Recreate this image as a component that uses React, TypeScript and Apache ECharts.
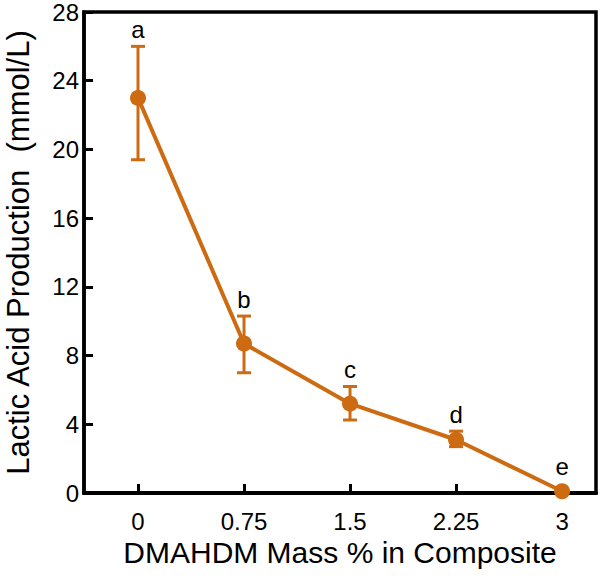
import React, { useEffect, useRef } from "react";
import * as echarts from "echarts";

const xValues = [0, 0.75, 1.5, 2.25, 3];
const means = [23.0, 8.7, 5.2, 3.1, 0.1];
const lowers = [19.4, 7.0, 4.25, 2.7, 0.1];
const uppers = [26.0, 10.3, 6.2, 3.6, 0.1];
const groupLetters = ["a", "b", "c", "d", "e"];
const xTicks = [0, 0.75, 1.5, 2.25, 3];
const xTickLabels = ["0", "0.75", "1.5", "2.25", "3"];

const ORANGE = "#CC6B12";
const FONT = "Liberation Sans, Arial, sans-serif";

export default function App() {
  const ref = useRef<HTMLDivElement>(null);
  useEffect(() => {
    if (!ref.current) return;
    const chart = echarts.init(ref.current, undefined, { renderer: "svg" });
    const errData = xValues.map((x, i) => [x, lowers[i], uppers[i], i]);
    chart.setOption({
      animation: false,
      grid: {
        left: 84,
        right: 5,
        top: 12,
        bottom: 89,
        show: true,
        borderColor: "#000",
        borderWidth: 3.5,
        containLabel: false,
        outerBoundsMode: "none",
      },
      xAxis: {
        type: "value",
        min: -0.382,
        max: 3.24,
        name: "DMAHDM Mass % in Composite",
        nameLocation: "middle",
        nameGap: 44,
        nameTextStyle: { fontSize: 30, color: "#000", fontFamily: FONT },
        axisLine: { show: true, onZero: false, lineStyle: { color: "#000", width: 4 } },
        axisTick: {
          show: true,
          inside: true,
          length: 9,
          customValues: xTicks,
          lineStyle: { color: "#000", width: 3 },
        },
        axisLabel: {
          customValues: xTicks,
          margin: 16,
          fontSize: 24,
          color: "#000",
          fontFamily: FONT,
          formatter: (v: number) => {
            const i = xTicks.indexOf(v);
            return i >= 0 ? xTickLabels[i] : "";
          },
        },
        splitLine: { show: false },
      },
      yAxis: {
        type: "value",
        min: 0,
        max: 28,
        interval: 4,
        name: "Lactic Acid Production  (mmol/L)",
        nameLocation: "middle",
        nameGap: 50,
        nameTextStyle: { fontSize: 31, color: "#000", fontFamily: FONT },
        axisLine: { show: true, onZero: false, lineStyle: { color: "#000", width: 3.5 } },
        axisTick: { show: true, inside: true, length: 9, lineStyle: { color: "#000", width: 3 } },
        axisLabel: { margin: 5, fontSize: 24, color: "#000", fontFamily: FONT },
        splitLine: { show: false },
      },
      series: [
        {
          type: "line",
          data: xValues.map((x, i) => [x, means[i]]),
          symbol: "circle",
          symbolSize: 16,
          lineStyle: { color: ORANGE, width: 4 },
          itemStyle: { color: ORANGE },
          z: 3,
        },
        {
          type: "custom",
          data: errData,
          z: 2,
          renderItem: (params: any, api: any) => {
            const x = api.value(0);
            const lo = api.coord([x, api.value(1)]);
            const hi = api.coord([x, api.value(2)]);
            const idx = api.value(3);
            const cap = 7;
            const children: any[] = [];
            const hasBar = Math.abs(hi[1] - lo[1]) > 0.5;
            if (hasBar) {
              children.push(
                { type: "line", shape: { x1: lo[0], y1: lo[1], x2: hi[0], y2: hi[1] }, style: { stroke: ORANGE, lineWidth: 3 } },
                { type: "line", shape: { x1: lo[0] - cap, y1: lo[1], x2: lo[0] + cap, y2: lo[1] }, style: { stroke: ORANGE, lineWidth: 3 } },
                { type: "line", shape: { x1: hi[0] - cap, y1: hi[1], x2: hi[0] + cap, y2: hi[1] }, style: { stroke: ORANGE, lineWidth: 3 } }
              );
            }
            const top = hasBar ? hi[1] : hi[1] - 8;
            children.push({
              type: "text",
              style: {
                x: hi[0],
                y: top - 5,
                text: groupLetters[idx],
                fill: "#000",
                fontSize: 24,
                fontFamily: FONT,
                align: "center",
                verticalAlign: "bottom",
              },
            });
            return { type: "group", children };
          },
        },
      ],
    });
    return () => chart.dispose();
  }, []);
  return (
    <div
      ref={ref}
      style={{ position: "absolute", left: 0, top: 0, width: 601, height: 582 }}
    />
  );
}
